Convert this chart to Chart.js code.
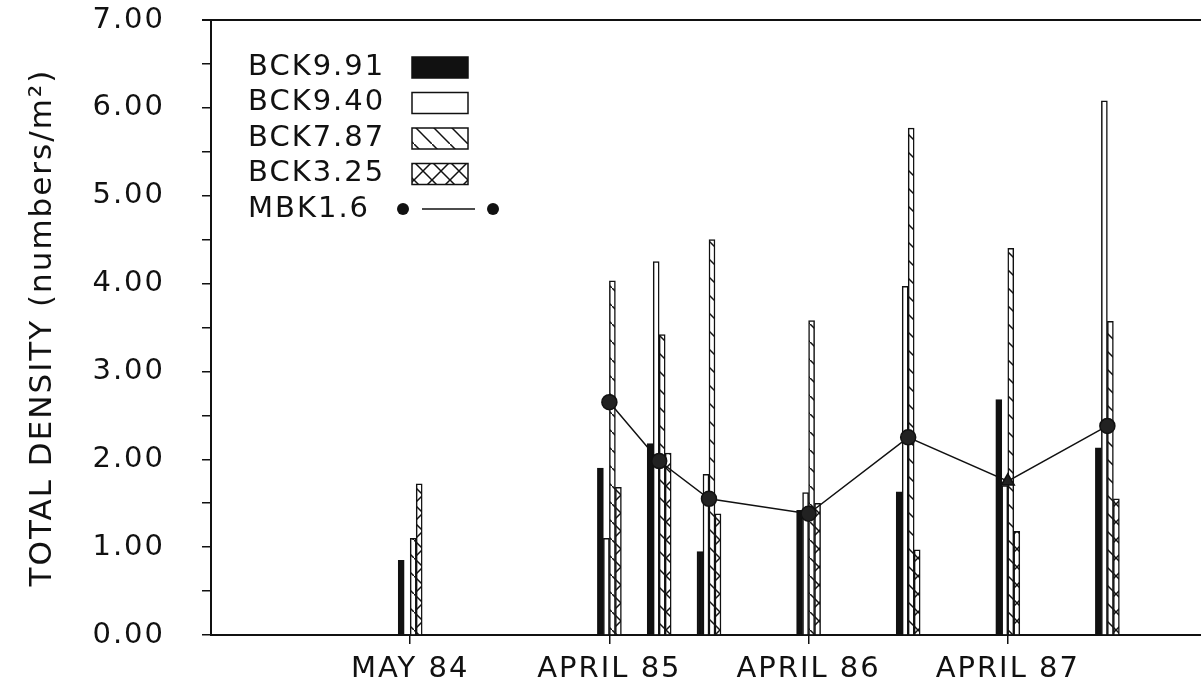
<!DOCTYPE html>
<html>
<head>
<meta charset="utf-8">
<script src="https://cdn.jsdelivr.net/npm/chart.js@4.4.1/dist/chart.umd.min.js"></script>
<style>
  html, body { margin: 0; padding: 0; background: #fff; }
  #wrap { width: 1201px; height: 688px; }
</style>
</head>
<body>
<div id="wrap"><canvas id="chart"></canvas></div>
<script>
// sampling periods, counted in quarters from May 84
const samplePeriods = [0, 4, 5, 6, 8, 10, 12, 14];
const tickValues = [0, 4, 8, 12];
const tickLabels = ['MAY 84', 'APRIL 85', 'APRIL 86', 'APRIL 87'];

// total density (numbers/m2) per station
const bck991 = [0.85, 1.90, 2.18, 0.95, 1.42, 1.63, 2.68, 2.13];
const bck940 = [null, 1.10, 4.25, 1.83, 1.62, 3.97, 1.70, 6.08];
const bck787 = [1.10, 4.03, 3.42, 4.50, 3.58, 5.77, 4.40, 3.57];
const bck325 = [1.72, 1.68, 2.07, 1.38, 1.50, 0.97, 1.18, 1.55];
const mbk16  = [null, 2.65, 1.98, 1.55, 1.38, 2.25, 1.75, 2.38];

const INK = '#111';
const FONT = '"DejaVu Sans", sans-serif';

const canvas = document.getElementById('chart');

// hatch patterns for the open bars
function makePattern(cross) {
  const c = document.createElement('canvas');
  c.width = 18; c.height = 18;
  const g = c.getContext('2d');
  g.fillStyle = '#fff';
  g.fillRect(0, 0, 18, 18);
  g.strokeStyle = INK;
  g.lineWidth = 1.5;
  g.beginPath();
  g.moveTo(0, 0); g.lineTo(18, 18);
  if (cross) { g.moveTo(18, 0); g.lineTo(0, 18); }
  g.stroke();
  return canvas.getContext('2d').createPattern(c, 'repeat');
}

function points(values) {
  return samplePeriods.map((x, i) => ({ x: x, y: values[i] }));
}

function barSet(label, values, fill) {
  return {
    type: 'bar',
    label: label,
    data: points(values),
    backgroundColor: fill,
    borderColor: INK,
    borderWidth: 1.5,
    barThickness: 6,
    order: 1
  };
}

// the old lettering is wide, space it out a bit
const spacing = {
  id: 'spacing',
  beforeLayout(chart) { chart.ctx.letterSpacing = '2px'; },
  beforeDraw(chart) { chart.ctx.letterSpacing = '2px'; }
};

// legend drawn inside the plot, text first then the swatch
const boxLegend = {
  id: 'boxLegend',
  afterDraw(chart) {
    const ctx = chart.ctx, a = chart.chartArea;
    ctx.save();
    ctx.font = '29px ' + FONT;
    ctx.textBaseline = 'middle';
    ctx.strokeStyle = INK;
    chart.data.datasets.forEach((ds, i) => {
      const y = a.top + 47 + i * 35.5;
      ctx.fillStyle = INK;
      ctx.fillText(ds.label, a.left + 37, y);
      ctx.lineWidth = 1.5;
      if (ds.type === 'bar') {
        ctx.fillStyle = ds.backgroundColor;
        ctx.fillRect(a.left + 201, y - 10, 56, 21);
        ctx.strokeRect(a.left + 201, y - 10, 56, 21);
      } else {
        ctx.fillStyle = INK;
        ctx.beginPath(); ctx.arc(a.left + 192, y, 6, 0, Math.PI * 2); ctx.fill();
        ctx.beginPath(); ctx.arc(a.left + 282, y, 6, 0, Math.PI * 2); ctx.fill();
        ctx.beginPath(); ctx.moveTo(a.left + 211, y); ctx.lineTo(a.left + 264, y); ctx.stroke();
      }
    });
    // top frame line
    ctx.lineWidth = 2;
    ctx.beginPath();
    ctx.moveTo(a.left - 9, a.top);
    ctx.lineTo(a.right, a.top);
    ctx.stroke();
    ctx.restore();
  }
};

new Chart(canvas, {
  type: 'bar',
  data: {
    datasets: [
      barSet('BCK9.91', bck991, INK),
      barSet('BCK9.40', bck940, '#fff'),
      barSet('BCK7.87', bck787, makePattern(false)),
      barSet('BCK3.25', bck325, makePattern(true)),
      {
        type: 'line',
        label: 'MBK1.6',
        data: points(mbk16),
        borderColor: INK,
        borderWidth: 1.5,
        pointRadius: 7.5,
        pointStyle: ['circle', 'circle', 'circle', 'circle', 'circle', 'circle', 'triangle', 'circle'],
        pointBackgroundColor: '#222',
        pointBorderColor: INK,
        tension: 0,
        order: 0
      }
    ]
  },
  options: {
    responsive: true,
    maintainAspectRatio: false,
    animation: false,
    devicePixelRatio: 1,
    layout: { autoPadding: false, padding: { top: 20, right: 0, left: 0, bottom: 0 } },
    plugins: {
      legend: { display: false },
      tooltip: { enabled: false }
    },
    scales: {
      x: {
        type: 'linear',
        min: -4,
        max: 15.88,
        offset: false,
        afterBuildTicks: s => { s.ticks = tickValues.map(v => ({ value: v })); },
        afterFit: s => { s.height = 53; },
        border: { display: true, color: INK, width: 2 },
        grid: { display: true, drawOnChartArea: false, offset: false, tickLength: 9, color: INK, lineWidth: 1.5 },
        ticks: {
          autoSkip: false,
          maxRotation: 0,
          padding: 8,
          color: INK,
          font: { family: FONT, size: 29 },
          callback: v => tickLabels[tickValues.indexOf(v)]
        }
      },
      y: {
        min: 0,
        max: 7,
        afterFit: s => { s.width = 211; },
        border: { display: true, color: INK, width: 2 },
        // long tick slot, but only the last 9px of it is inked
        grid: { display: true, drawOnChartArea: false, tickLength: 46, tickBorderDash: [0, 37, 9], color: INK, lineWidth: 1.5 },
        ticks: {
          stepSize: 0.5,
          autoSkip: false,
          padding: 0,
          color: INK,
          font: { family: FONT, size: 29 },
          callback: v => Number.isInteger(v) ? v.toFixed(2) : ''
        },
        title: {
          display: true,
          text: 'TOTAL DENSITY (numbers/m²)',
          color: INK,
          font: { family: FONT, size: 31 },
          padding: { top: 24, bottom: 0 }
        }
      }
    }
  },
  plugins: [spacing, boxLegend]
});
</script>
</body>
</html>
